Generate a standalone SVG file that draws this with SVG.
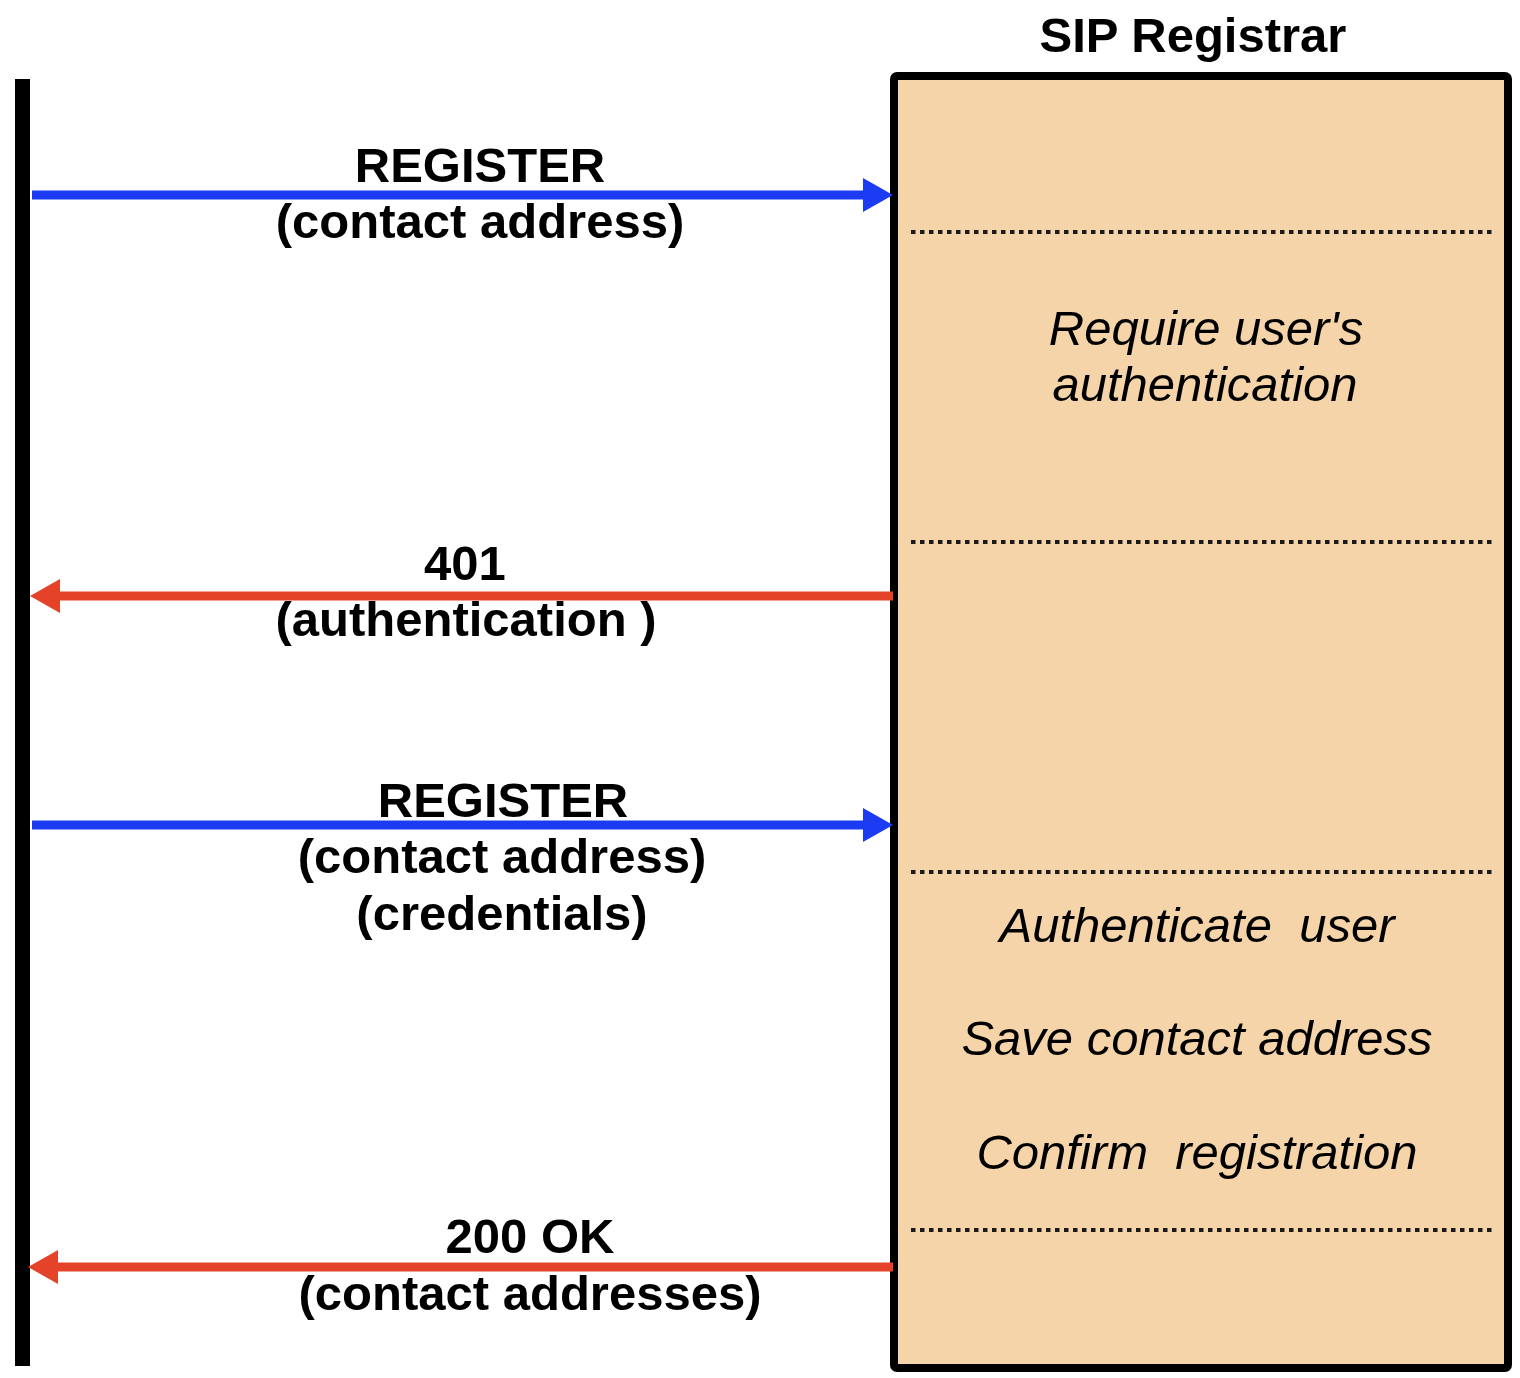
<svg xmlns="http://www.w3.org/2000/svg" width="1520" height="1378" viewBox="0 0 1520 1378">
<style>
.lbl{font-family:"Liberation Sans",Arial,sans-serif;font-weight:bold;font-size:49px;fill:#000;text-anchor:middle}
.act{font-family:"Liberation Sans",Arial,sans-serif;font-style:italic;font-size:49px;fill:#000;text-anchor:middle;white-space:pre}
.dots{stroke:#1a1a1a;stroke-width:4;stroke-dasharray:4.5 4.5;fill:none}
.req{stroke:#1b3cf2;stroke-width:9;fill:none}
.rsp{stroke:#e4432a;stroke-width:9;fill:none}
</style>
<defs>
<marker id="hb" markerUnits="userSpaceOnUse" markerWidth="30" markerHeight="34" refX="2" refY="17" orient="auto" viewBox="0 0 30 34">
<path d="M0,0 L30,17 L0,34 z" fill="#1b3cf2"/>
</marker>
<marker id="hr" markerUnits="userSpaceOnUse" markerWidth="30" markerHeight="34" refX="2" refY="17" orient="auto" viewBox="0 0 30 34">
<path d="M0,0 L30,17 L0,34 z" fill="#e4432a"/>
</marker>
</defs>
<rect width="1520" height="1378" fill="#fff"/>
<g id="client">
<rect x="15" y="79" width="15" height="1287" fill="#000"/>
</g>
<g id="registrar">
<text class="lbl" x="1193" y="52">SIP Registrar</text>
<rect x="894" y="76" width="614" height="1292" rx="3" fill="#f6d4a9" stroke="#000" stroke-width="8"/>
<line class="dots" x1="911" y1="232" x2="1492" y2="232"/>
<line class="dots" x1="911" y1="542" x2="1492" y2="542"/>
<line class="dots" x1="911" y1="872" x2="1492" y2="872"/>
<line class="dots" x1="911" y1="1230" x2="1492" y2="1230"/>
<text class="act" x="1206" y="345">Require user's</text>
<text class="act" x="1205" y="401">authentication</text>
<text class="act" x="1197" y="942">Authenticate  user</text>
<text class="act" x="1197" y="1055">Save contact address</text>
<text class="act" x="1197" y="1169">Confirm  registration</text>
</g>
<g id="connectors">
<line class="req" x1="32" y1="195" x2="865" y2="195" marker-end="url(#hb)"/>
<line class="rsp" x1="893" y1="596" x2="58" y2="596" marker-end="url(#hr)"/>
<line class="req" x1="32" y1="825" x2="865" y2="825" marker-end="url(#hb)"/>
<line class="rsp" x1="893" y1="1267" x2="56" y2="1267" marker-end="url(#hr)"/>
</g>
<g id="labels">
<text class="lbl" x="480" y="182">REGISTER</text>
<text class="lbl" x="480" y="238">(contact address)</text>
<text class="lbl" x="465" y="580">401</text>
<text class="lbl" x="466" y="636">(authentication )</text>
<text class="lbl" x="503" y="817">REGISTER</text>
<text class="lbl" x="502" y="873">(contact address)</text>
<text class="lbl" x="502" y="930">(credentials)</text>
<text class="lbl" x="530" y="1253">200 OK</text>
<text class="lbl" x="530" y="1310">(contact addresses)</text>
</g>
</svg>
